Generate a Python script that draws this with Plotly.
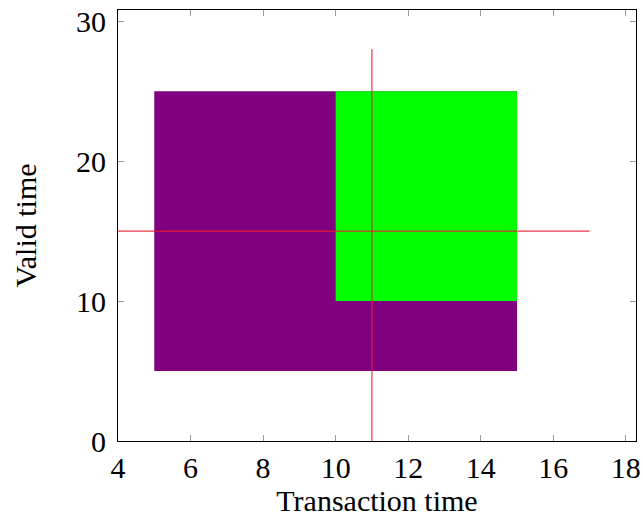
import plotly.graph_objects as go

# Rectangles: (x0, x1, y0, y1)
purple_rect = [5, 15, 5, 25]
green_rect = [10, 15, 10, 25]
# Red cross lines
vline_x = [11, 11]
vline_y = [0, 28]
hline_x = [4, 17]
hline_y = [15, 15]

x_ticks = [4, 6, 8, 10, 12, 14, 16, 18]
y_ticks = [0, 10, 20, 30]


def rect_path(r):
    x0, x1, y0, y1 = r
    return [x0, x1, x1, x0, x0], [y0, y0, y1, y1, y0]


fig = go.Figure()
px, py = rect_path(purple_rect)
fig.add_trace(go.Scatter(x=px, y=py, fill="toself", fillcolor="#800080",
                         mode="lines", line=dict(width=0, color="#800080"),
                         hoverinfo="skip", showlegend=False))
gx, gy = rect_path(green_rect)
fig.add_trace(go.Scatter(x=gx, y=gy, fill="toself", fillcolor="#00ff00",
                         mode="lines", line=dict(width=0, color="#00ff00"),
                         hoverinfo="skip", showlegend=False))
fig.add_trace(go.Scatter(x=vline_x, y=vline_y, mode="lines",
                         line=dict(color="rgba(235,30,50,0.9)", width=1.2),
                         showlegend=False))
fig.add_trace(go.Scatter(x=hline_x, y=hline_y, mode="lines",
                         line=dict(color="rgba(235,30,50,0.9)", width=1.2),
                         showlegend=False))

font = dict(family="Liberation Serif, DejaVu Serif, serif", size=30, color="black")

fig.update_layout(
    width=643, height=521,
    margin=dict(l=118, r=7, t=10, b=80),
    plot_bgcolor="white", paper_bgcolor="white",
    font=font,
    xaxis=dict(range=[4, 18.28], tickvals=x_ticks, ticks="inside", ticklen=6,
               tickcolor="#999999", showgrid=False, zeroline=False,
               showline=True, linecolor="black", linewidth=1, mirror="ticks",
               automargin=False, ticklabelstandoff=0,
               title=dict(text="Transaction time", font=font, standoff=6),
               tickfont=font),
    yaxis=dict(range=[0, 30.8], tickvals=y_ticks, ticks="inside", ticklen=6,
               tickcolor="#999999", showgrid=False, zeroline=False,
               showline=True, linecolor="black", linewidth=1, mirror="ticks",
               automargin=False, ticklabelstandoff=5,
               title=dict(text="Valid time", font=font, standoff=30),
               tickfont=font),
)

fig.write_html("out.html", config={"displayModeBar": False})

with open("out.html", "r", encoding="utf-8") as f:
    html = f.read()
html = html.replace("<head>", "<head><style>html,body{margin:0;padding:0;overflow:hidden;}</style>", 1)
with open("out.html", "w", encoding="utf-8") as f:
    f.write(html)
